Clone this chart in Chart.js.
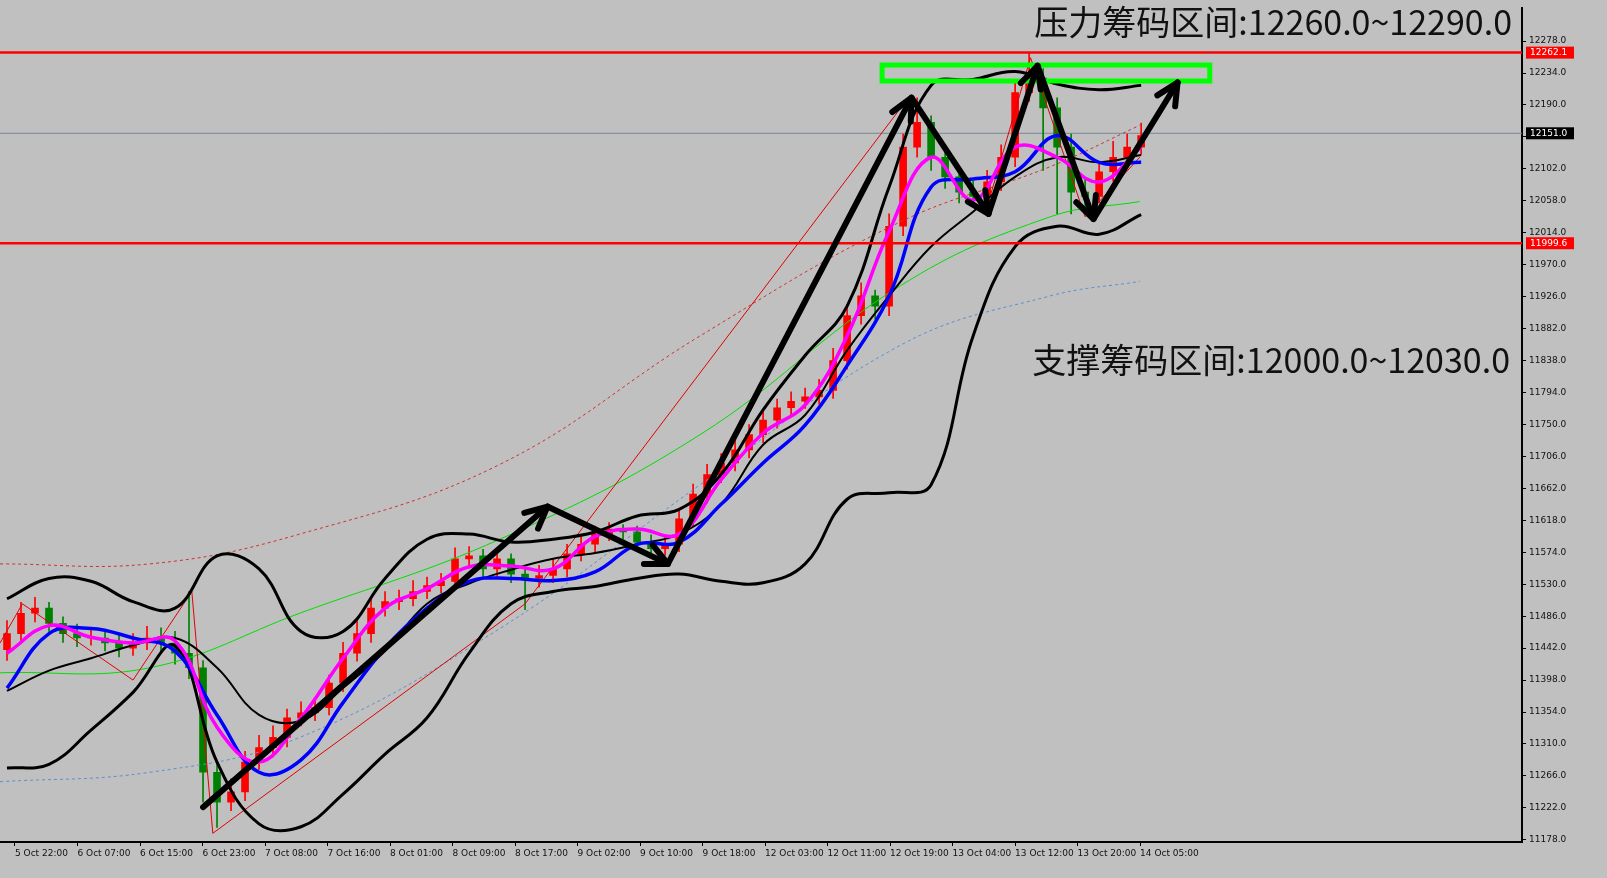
<!DOCTYPE html>
<html>
<head>
<meta charset="utf-8">
<script src="https://cdn.jsdelivr.net/npm/chart.js@4.4.1/dist/chart.umd.min.js"></script>
<style>
  html, body { margin: 0; padding: 0; background: #c0c0c0; }
  #wrap { width: 1607px; height: 878px; }
</style>
</head>
<body>
<div id="wrap"><canvas id="c" width="1607" height="878"></canvas></div>
<script>
// hourly-ish candles (2 bars per label step of the original)
const opens = [11440,11462,11490,11497,11476,11462,11456,11456,11449,11442,11449,11456,11449,11435,11415,11271,11230,11244,11285,11305,11319,11346,11353,11360,11394,11435,11462,11497,11506,11510,11520,11528,11534,11565,11569,11551,11565,11544,11538,11542,11551,11572,11585,11599,11606,11602,11588,11579,11585,11620,11654,11681,11697,11715,11736,11756,11773,11782,11788,11797,11838,11900,11927,11913,12023,12132,12166,12118,12091,12070,12064,12084,12118,12207,12227,12186,12132,12070,12064,12098,12118,12132];
const closes = [11462,11490,11497,11476,11462,11456,11456,11449,11442,11449,11456,11449,11435,11415,11271,11230,11244,11285,11305,11319,11346,11353,11360,11394,11435,11462,11497,11506,11510,11520,11528,11534,11565,11569,11551,11565,11544,11538,11542,11551,11572,11585,11599,11606,11602,11588,11579,11585,11620,11654,11681,11697,11715,11736,11756,11773,11782,11788,11797,11838,11900,11927,11913,12023,12132,12166,12118,12091,12070,12064,12084,12118,12207,12227,12186,12132,12070,12064,12098,12118,12132,12148];
const highs = [11480,11505,11512,11505,11485,11475,11470,11468,11460,11462,11472,11470,11465,11520,11425,11285,11262,11300,11322,11335,11358,11368,11372,11405,11450,11480,11512,11520,11522,11535,11540,11545,11580,11582,11578,11574,11572,11556,11556,11565,11585,11596,11610,11615,11612,11610,11598,11596,11632,11668,11695,11710,11728,11750,11770,11785,11795,11800,11812,11855,11915,11945,11935,12040,12150,12200,12175,12130,12100,12085,12100,12135,12225,12262,12240,12200,12150,12090,12112,12140,12150,12165];
const lows = [11425,11450,11478,11465,11450,11444,11446,11438,11430,11432,11440,11436,11420,11400,11230,11195,11218,11232,11275,11292,11306,11335,11342,11350,11382,11424,11450,11486,11495,11500,11510,11518,11524,11552,11538,11540,11532,11495,11526,11532,11540,11562,11575,11590,11592,11578,11568,11570,11575,11610,11642,11670,11686,11704,11725,11745,11762,11772,11778,11786,11826,11888,11895,11900,12010,12118,12100,12075,12055,12050,12050,12072,12105,12195,12100,12040,12040,12045,12055,12085,12108,12122];

// indicators sampled every 3 bars
const gridBars = [0,3,6,9,12,15,18,21,24,27,30,33,36,39,42,45,48,51,54,57,60,63,66,69,72,75,78,81];
const bbUpper = [11510,11538,11534,11506,11497,11569,11551,11465,11465,11538,11592,11599,11588,11592,11602,11624,11633,11681,11770,11845,11913,12077,12217,12225,12236,12219,12211,12217];
const bbMiddle = [11383,11411,11428,11446,11456,11415,11350,11342,11387,11438,11503,11531,11550,11565,11573,11585,11599,11640,11722,11763,11852,11927,11995,12043,12091,12118,12111,12121];
const bbLower = [11277,11282,11329,11381,11445,11285,11200,11196,11241,11296,11346,11435,11503,11520,11527,11538,11544,11534,11532,11558,11647,11656,11667,11872,11995,12023,12012,12039];
const maFast = [11435,11473,11457,11449,11452,11333,11285,11346,11428,11497,11524,11554,11555,11551,11596,11606,11599,11674,11738,11777,11872,12016,12118,12059,12132,12118,12084,12132];
const maSlow = [11387,11462,11469,11456,11438,11350,11271,11288,11367,11442,11497,11534,11538,11535,11547,11585,11588,11640,11697,11749,11831,11927,12077,12088,12098,12148,12111,12111];

// slow averages (sparse)
const slowBars = [-0.5,10.2,20.9,35.2,49.5,63.8,74.5,80.9];
const maGreen = [11408,11415,11490,11592,11736,11941,12036,12057];
const maBlueDot = [11258,11271,11319,11469,11667,11859,11927,11947];
const maRedDot = [11558,11558,11599,11695,11872,12029,12105,12162];

// zigzag
const zigBars = [-0.5,1.1,9,13.2,14.7,37,64.5,69.9,73.1,77,80.9];
const zigPrices = [11449,11503,11398,11520,11187,11503,12203,12043,12255,12036,12118];

// hand-drawn arrows
const arrowBars = [14,38.6,47.2,64.6,70.1,73.6,77.6,83.6];
const arrowPrices = [11223,11637,11558,12200,12040,12244,12033,12221];

// levels and zone
const resistLine = 12262.1;
const supportLine = 11999.6;
const lastPrice = 12151.0;
const zoneBars = [62.5, 85.9];
const zonePrices = [12223, 12245];

const yTicks = [];
for (let v = 11178; v <= 12278; v += 44) yTicks.push(v);
const xLabels = ['5 Oct 22:00','6 Oct 07:00','6 Oct 15:00','6 Oct 23:00','7 Oct 08:00','7 Oct 16:00','8 Oct 01:00','8 Oct 09:00','8 Oct 17:00','9 Oct 02:00','9 Oct 10:00','9 Oct 18:00','12 Oct 03:00','12 Oct 11:00','12 Oct 19:00','13 Oct 04:00','13 Oct 12:00','13 Oct 20:00','14 Oct 05:00'];
const xTickPos = xLabels.map((_, k) => 0.571 + 4.464 * k);

const UP = '#ff0000', DOWN = '#008000';
const candleColor = closes.map((c, i) => c >= opens[i] ? UP : DOWN);

const pts = (xs, ys) => xs.map((x, i) => ({ x: x, y: ys[i] }));
const line = (data, color, width, extra) => Object.assign({
  type: 'line', data: data, borderColor: color, borderWidth: width,
  pointRadius: 0, tension: 0.4, fill: false
}, extra || {});

const overlay = {
  id: 'overlay',
  beforeDatasetsDraw(chart) {
    const { ctx, chartArea: a, scales: { x, y } } = chart;
    ctx.save();
    ctx.strokeStyle = '#7a8794'; ctx.lineWidth = 1;
    ctx.beginPath(); ctx.moveTo(a.left, y.getPixelForValue(lastPrice)); ctx.lineTo(a.right, y.getPixelForValue(lastPrice)); ctx.stroke();
    ctx.restore();
  },
  afterDatasetsDraw(chart) {
    const { ctx, chartArea: a, scales: { x, y } } = chart;
    ctx.save();
    ctx.beginPath(); ctx.rect(a.left, a.top, a.right - a.left, a.bottom - a.top); ctx.clip();
    // levels
    ctx.strokeStyle = '#ff0000'; ctx.lineWidth = 2.5;
    [resistLine, supportLine].forEach(v => {
      const py = y.getPixelForValue(v);
      ctx.beginPath(); ctx.moveTo(a.left, py); ctx.lineTo(a.right, py); ctx.stroke();
    });
    // zone
    ctx.strokeStyle = '#00ff00'; ctx.lineWidth = 5;
    const zx0 = x.getPixelForValue(zoneBars[0]), zx1 = x.getPixelForValue(zoneBars[1]);
    const zy0 = y.getPixelForValue(zonePrices[1]), zy1 = y.getPixelForValue(zonePrices[0]);
    ctx.strokeRect(zx0, zy0, zx1 - zx0, zy1 - zy0);
    // arrows
    ctx.strokeStyle = '#000'; ctx.lineWidth = 6; ctx.lineCap = 'round'; ctx.lineJoin = 'round';
    const P = arrowBars.map((b, i) => [x.getPixelForValue(b), y.getPixelForValue(arrowPrices[i])]);
    ctx.beginPath(); ctx.moveTo(P[0][0], P[0][1]);
    for (let i = 1; i < P.length; i++) ctx.lineTo(P[i][0], P[i][1]);
    ctx.stroke();
    for (let i = 1; i < P.length; i++) {
      const ang = Math.atan2(P[i][1] - P[i - 1][1], P[i][0] - P[i - 1][0]);
      ctx.beginPath();
      [-0.45, 0.45].forEach(d => {
        ctx.moveTo(P[i][0], P[i][1]);
        ctx.lineTo(P[i][0] - 24 * Math.cos(ang + d), P[i][1] - 24 * Math.sin(ang + d));
      });
      ctx.stroke();
    }
    ctx.restore();

    // axis price boxes
    ctx.save();
    ctx.font = '9px "DejaVu Sans"'; ctx.textBaseline = 'middle'; ctx.textAlign = 'left';
    [[resistLine, '#ff0000', '#fff'], [supportLine, '#ff0000', '#fff'], [lastPrice, '#000', '#fff']].forEach(([v, bg, fg]) => {
      const py = y.getPixelForValue(v);
      ctx.fillStyle = bg; ctx.fillRect(a.right + 4, py - 6, 48, 12);
      ctx.fillStyle = fg; ctx.fillText(v.toFixed(1), a.right + 8, py);
    });
    // big zone texts
    ctx.fillStyle = '#111'; ctx.textAlign = 'right'; ctx.textBaseline = 'middle';
    ctx.font = '34px "Noto Sans CJK SC"';
    ctx.fillText('压力筹码区间:12260.0~12290.0', 1512, 22);
    ctx.fillText('支撑筹码区间:12000.0~12030.0', 1510, 360);
    ctx.restore();
  }
};

new Chart(document.getElementById('c'), {
  data: {
    datasets: [
      { type: 'bar', data: pts(closes.map((_, i) => i), lows.map((l, i) => [l, highs[i]])), backgroundColor: candleColor, barThickness: 1, grouped: false, order: 10 },
      { type: 'bar', data: pts(closes.map((_, i) => i), opens.map((o, i) => [o, closes[i]])), backgroundColor: candleColor, barThickness: 7, grouped: false, minBarLength: 1, order: 9 },
      line(pts(slowBars, maRedDot), '#d03030', 1, { borderDash: [3, 3], order: 8 }),
      line(pts(slowBars, maBlueDot), '#5a8fd0', 1, { borderDash: [3, 3], order: 8 }),
      line(pts(slowBars, maGreen), '#00dd00', 1, { order: 8 }),
      line(pts(zigBars, zigPrices), '#e00000', 1, { tension: 0, order: 7 }),
      line(pts(gridBars, bbUpper), '#000', 3, { order: 6 }),
      line(pts(gridBars, bbMiddle), '#000', 2, { order: 6 }),
      line(pts(gridBars, bbLower), '#000', 3, { order: 6 }),
      line(pts(gridBars, maSlow), '#0000ff', 3.5, { order: 5 }),
      line(pts(gridBars, maFast), '#ff00ff', 3.5, { order: 4 })
    ]
  },
  options: {
    responsive: false, animation: false, events: [],
    layout: { padding: { top: -12, bottom: -2, left: 0, right: 0 } },
    plugins: { legend: { display: false }, tooltip: { enabled: false } },
    scales: {
      x: {
        type: 'linear', min: -0.5, max: 108.2, offset: false,
        afterBuildTicks: s => { s.ticks = xTickPos.map(v => ({ value: v })); },
        afterFit: s => { s.height = 38; },
        grid: { drawOnChartArea: false, drawTicks: true, tickLength: 4, color: '#000', offset: false },
        border: { color: '#000', width: 2 },
        ticks: { align: 'start', autoSkip: false, maxRotation: 0, padding: 2, color: '#111',
          font: { family: 'DejaVu Sans', size: 9 },
          callback: (v, i) => xLabels[i] }
      },
      y: {
        position: 'right', min: 11175, max: 12323,
        afterBuildTicks: s => { s.ticks = yTicks.map(v => ({ value: v })); },
        afterFit: s => { s.width = 85; },
        grid: { drawOnChartArea: false, drawTicks: true, tickLength: 4, color: '#000' },
        border: { color: '#000', width: 2 },
        ticks: { color: '#111', padding: 3, font: { family: 'DejaVu Sans', size: 9 },
          callback: v => v.toFixed(1) }
      }
    }
  },
  plugins: [overlay]
});
</script>
</body>
</html>
